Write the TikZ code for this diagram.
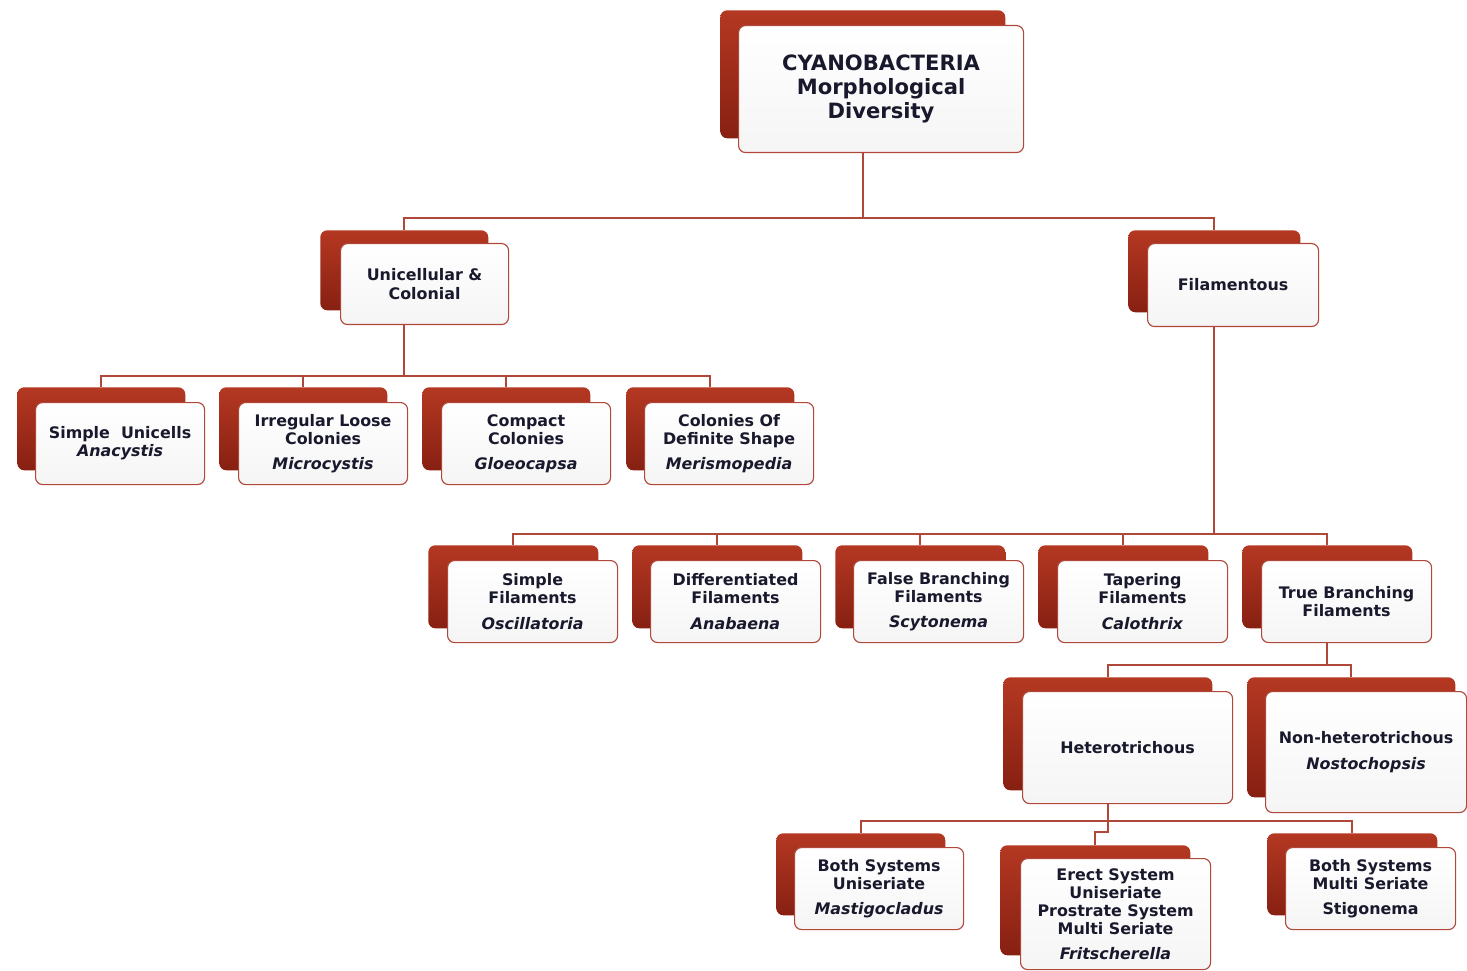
\documentclass[tikz,border=0pt]{standalone}
\usepackage{fontspec}
\setmainfont{DejaVu Sans}
\usetikzlibrary{calc}

\definecolor{ink}{RGB}{25,25,45}
\definecolor{edge}{RGB}{176,72,58}
\definecolor{redtop}{RGB}{180,56,34}
\definecolor{redbot}{RGB}{135,32,18}

\begin{document}
\begin{tikzpicture}[
  x=0.025cm,
  y=-0.025cm,
  dims/.style 2 args={minimum width=#1*0.025cm, minimum height=#2*0.025cm},
  back/.style={rounded corners=5pt, top color=redtop, bottom color=redbot,
    anchor=north west, inner sep=0pt},
  front/.style={draw=edge, line width=0.8pt, rounded corners=5pt,
    top color=white, bottom color=black!4, anchor=north west, inner sep=2pt,
    align=center, text=ink, font=\fontsize{11.3}{12.9}\selectfont\bfseries},
  title/.style={front, font=\fontsize{15}{17}\selectfont\bfseries},
  link/.style={draw=edge, line width=1.5pt},
]
  \useasboundingbox (0,0) rectangle (1467,971);

  % bar heights of the tree (pixels from the top)
  \coordinate (bar1) at (0,218);
  \coordinate (bar2) at (0,376);
  \coordinate (bar3) at (0,534);
  \coordinate (bar4) at (0,665);
  \coordinate (bar5) at (0,821);
  \coordinate (jog)  at (0,832);

  % Root
  \node[back, dims={285}{128}] (cyanoB) at (720,10) {};
  \node[title, dims={285}{127}] (cyano) at (738,25)
    {CYANOBACTERIA\\Morphological\\Diversity};

  % Level 1
  \node[back, dims={168}{80}] (uniB) at (320,230) {};
  \node[front, dims={168}{81}] (uni) at (340,243) {Unicellular \&\\Colonial};
  \node[back, dims={172}{82}] (filB) at (1128,230) {};
  \node[front, dims={171}{83}] (fil) at (1147,243) {Filamentous};

  % Unicellular branch
  \node[back, dims={168}{83}] (suniB) at (17,387) {};
  \node[front, dims={169}{82}] (suni) at (35,402)
    {Simple\ \ Unicells\\\textit{Anacystis}};
  \node[back, dims={168}{83}] (looseB) at (219,387) {};
  \node[front, dims={169}{82}] (loose) at (238,402)
    {Irregular Loose\\Colonies\\[5pt]\textit{Microcystis}};
  \node[back, dims={168}{83}] (compB) at (422,387) {};
  \node[front, dims={169}{82}] (comp) at (441,402)
    {Compact\\Colonies\\[5pt]\textit{Gloeocapsa}};
  \node[back, dims={168}{83}] (defB) at (626,387) {};
  \node[front, dims={169}{82}] (def) at (644,402)
    {Colonies Of\\Definite Shape\\[5pt]\textit{Merismopedia}};

  % Filamentous branch
  \node[back, dims={170}{83}] (sfilB) at (428,545) {};
  \node[front, dims={170}{82}] (sfil) at (447,560)
    {Simple\\Filaments\\[5pt]\textit{Oscillatoria}};
  \node[back, dims={170}{83}] (dfilB) at (632,545) {};
  \node[front, dims={170}{82}] (dfil) at (650,560)
    {Differentiated\\Filaments\\[5pt]\textit{Anabaena}};
  \node[back, dims={170}{83}] (fbrB) at (835,545) {};
  \node[front, dims={170}{82}] (fbr) at (853,560)
    {False Branching\\Filaments\\[5pt]\textit{Scytonema}};
  \node[back, dims={170}{83}] (tapB) at (1038,545) {};
  \node[front, dims={170}{82}] (tap) at (1057,560)
    {Tapering\\Filaments\\[5pt]\textit{Calothrix}};
  \node[back, dims={170}{83}] (tbrB) at (1242,545) {};
  \node[front, dims={170}{82}] (tbr) at (1261,560)
    {True Branching\\Filaments};

  % True branching
  \node[back, dims={209}{113}] (hetB) at (1003,677) {};
  \node[front, dims={210}{112}] (het) at (1022,691) {Heterotrichous};
  \node[back, dims={208}{120}] (nhetB) at (1247,677) {};
  \node[front, dims={201}{121}] (nhet) at (1265,691)
    {Non-heterotrichous\\[6pt]\textit{Nostochopsis}};

  % Heterotrichous
  \node[back, dims={169}{82}] (bsuB) at (776,833) {};
  \node[front, dims={169}{82}] (bsu) at (794,847)
    {Both Systems\\Uniseriate\\[5pt]\textit{Mastigocladus}};
  \node[back, dims={190}{110}] (erectB) at (1000,845) {};
  \node[front, dims={190}{111}] (erect) at (1020,858)
    {Erect System\\Uniseriate\\Prostrate System\\Multi Seriate\\[5pt]\textit{Fritscherella}};
  \node[back, dims={170}{82}] (bsmB) at (1267,833) {};
  \node[front, dims={170}{82}] (bsm) at (1285,847)
    {Both Systems\\Multi Seriate\\[5pt]Stigonema};

  % connectors
  \draw[link] (cyanoB |- cyano.south) -- (cyanoB |- bar1);
  \draw[link] (uniB.north) -- (uniB |- bar1) -- (filB |- bar1) -- (filB.north);

  \draw[link] (uniB |- uni.south) -- (uniB |- bar2);
  \draw[link] (suniB.north) -- (suniB |- bar2) -- (defB |- bar2) -- (defB.north);
  \draw[link] (looseB |- bar2) -- (looseB.north);
  \draw[link] (compB |- bar2) -- (compB.north);

  \draw[link] (filB |- fil.south) -- (filB |- bar3);
  \draw[link] (sfilB.north) -- (sfilB |- bar3) -- (tbrB |- bar3) -- (tbrB.north);
  \draw[link] (dfilB |- bar3) -- (dfilB.north);
  \draw[link] (fbrB |- bar3) -- (fbrB.north);
  \draw[link] (tapB |- bar3) -- (tapB.north);

  \draw[link] (tbrB |- tbr.south) -- (tbrB |- bar4);
  \draw[link] (hetB.north) -- (hetB |- bar4) -- (nhetB |- bar4) -- (nhetB.north);

  \draw[link] (hetB |- het.south) -- (hetB |- bar5);
  \draw[link] (bsuB.north) -- (bsuB |- bar5) -- (bsmB |- bar5) -- (bsmB.north);
  \draw[link] (hetB |- bar5) -- (hetB |- jog) -- (erectB |- jog) -- (erectB.north);
\end{tikzpicture}
\end{document}
